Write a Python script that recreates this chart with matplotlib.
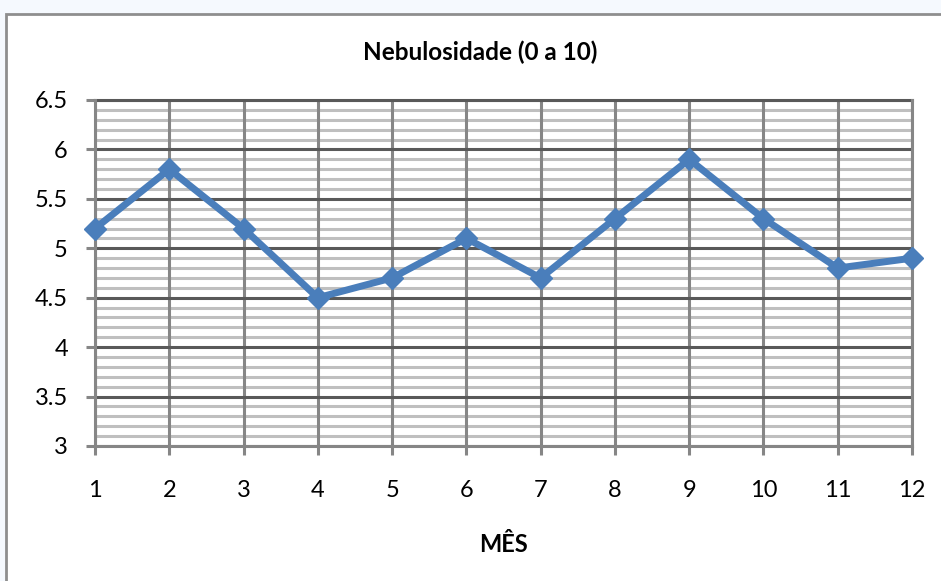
import matplotlib.pyplot as plt
import matplotlib.patches as mpatches
import matplotlib.ticker as ticker

# Monthly cloud cover (0 to 10 scale)
months = [1, 2, 3, 4, 5, 6, 7, 8, 9, 10, 11, 12]
nebulosidade = [5.2, 5.8, 5.2, 4.5, 4.7, 5.1, 4.7, 5.3, 5.9, 5.3, 4.8, 4.9]
y_ticks = [3, 3.5, 4, 4.5, 5, 5.5, 6, 6.5]
y_tick_labels = ["3", "3.5", "4", "4.5", "5", "5.5", "6", "6.5"]

plt.rcParams["font.family"] = ["Lato", "DejaVu Sans"]

W, H = 941, 581
fig = plt.figure(figsize=(W / 100, H / 100), dpi=100)
fig.patch.set_facecolor("#F5F9FE")

# White chart area with grey frame
frame = mpatches.Rectangle(
    (6 / W, -0.05), 1.1, (H - 14) / H + 0.05,
    transform=fig.transFigure, facecolor="white",
    edgecolor="#8E8E8E", linewidth=2, zorder=0,
)
fig.patches.append(frame)

left, right = 95 / W, 912 / W
bottom, top = (H - 446) / H, (H - 100) / H
ax = fig.add_axes([left, bottom, right - left, top - bottom])
ax.set_zorder(2)
ax.set_facecolor("white")

ax.set_xlim(1, 12)
ax.set_ylim(3, 6.5)
ax.set_xticks(months)
ax.set_xticklabels([str(m) for m in months])
ax.set_yticks(y_ticks)
ax.set_yticklabels(y_tick_labels)
ax.yaxis.set_minor_locator(ticker.MultipleLocator(0.1))

# Gridlines: light minor horizontals, grey verticals, dark major horizontals
lw = 2.2
minor_y = [t for t in ax.yaxis.get_minorticklocs()]
ax.hlines(minor_y, 1, 12, color="#BFBFBF", linewidth=lw, zorder=1)
ax.vlines(months, 3, 6.5, color="#868686", linewidth=lw, zorder=2)
ax.hlines(y_ticks, 1, 12, color="#595959", linewidth=lw, zorder=3)

for side in ["left", "bottom", "right"]:
    ax.spines[side].set_color("#868686")
    ax.spines[side].set_linewidth(lw)
    ax.spines[side].set_zorder(3.5)
ax.spines["top"].set_color("#595959")
ax.spines["top"].set_linewidth(lw)

ax.tick_params(axis="both", which="major", direction="out", length=6.5,
               width=lw, color="#868686", labelsize=17, labelcolor="black")
ax.tick_params(axis="y", which="minor", length=0)
ax.tick_params(axis="x", pad=18)
ax.tick_params(axis="y", pad=13)

ax.plot(months, nebulosidade, color="#4A7EBB", linewidth=5,
        marker="D", markersize=11, markerfacecolor="#4A7EBB",
        markeredgecolor="#4A7EBB", zorder=5, clip_on=False)

fig.text(480 / W, 1 - 52 / H, "Nebulosidade (0 a 10)", ha="center",
         va="center", fontsize=17.5, fontweight="bold")
fig.text(504 / W, 1 - 545 / H, "MÊS", ha="center", va="center",
         fontsize=17, fontweight="bold")

fig.savefig("out.png", dpi=100, facecolor=fig.get_facecolor())
